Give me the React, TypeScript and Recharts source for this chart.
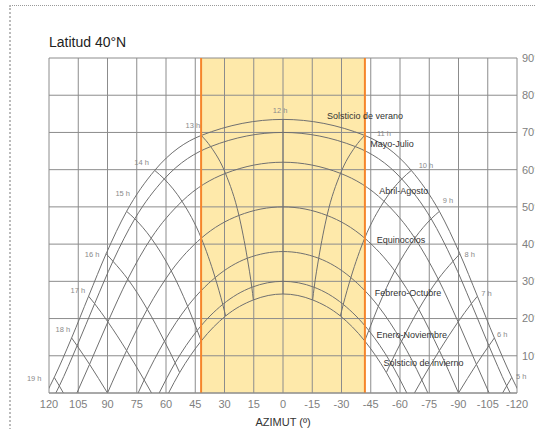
import {
  LineChart,
  Line,
  XAxis,
  YAxis,
  CartesianGrid,
  ReferenceArea,
  ReferenceLine,
  ReferenceDot,
} from "recharts";

// [azimuth (deg, + = west), altitude (deg)]
type Pt = [number, number];

const azTicks = [120, 105, 90, 75, 60, 45, 30, 15, 0, -15, -30, -45, -60, -75, -90, -105, -120];
const azMinorTicks = [
  115, 110, 100, 95, 85, 80, 70, 65, 55, 50, 40, 35, 25, 20, 10, 5,
  -5, -10, -20, -25, -35, -40, -50, -55, -65, -70, -80, -85, -95, -100, -110, -115,
];
const altTicks = [0, 10, 20, 30, 40, 50, 60, 70, 80, 90];
const altMinorTicks = [5, 15, 25, 35, 45, 55, 65, 75, 85];
const bandEdges = [42, -42];

// day paths
const summerPath: Pt[] = [
  [-121.3, 0], [-117.3, 4.2], [-108.4, 14.8], [-99.7, 26.0], [-90.7, 37.4], [-80.2, 48.8],
  [-65.8, 59.8], [-41.9, 69.2], [0, 73.5], [41.9, 69.2], [65.8, 59.8], [80.2, 48.8],
  [90.7, 37.4], [99.7, 26.0], [108.4, 14.8], [117.3, 4.2], [121.3, 0],
];
const mayJulPath: Pt[] = [
  [-116.5, 0], [-114.7, 1.9], [-105.6, 12.7], [-96.6, 24.0], [-87.2, 35.4], [-76.0, 46.8],
  [-60.9, 57.5], [-37.1, 66.2], [0, 70], [37.1, 66.2], [60.9, 57.5], [76.0, 46.8],
  [87.2, 35.4], [96.6, 24.0], [105.6, 12.7], [114.7, 1.9], [116.5, 0],
];
const aprAugPath: Pt[] = [
  [-105.7, 0], [-99.2, 7.7], [-89.8, 19.1], [-79.6, 30.6], [-67.6, 41.6], [-51.8, 51.5],
  [-29.5, 59.0], [0, 62], [29.5, 59.0], [51.8, 51.5], [67.6, 41.6], [79.6, 30.6],
  [89.8, 19.1], [99.2, 7.7], [105.7, 0],
];
const equinoxPath: Pt[] = [
  [-90, 0], [-80.2, 11.4], [-69.6, 22.5], [-57.3, 32.8], [-41.9, 41.6], [-22.6, 47.7],
  [0, 50], [22.6, 47.7], [41.9, 41.6], [57.3, 32.8], [69.6, 22.5], [80.2, 11.4], [90, 0],
];
const febOctPath: Pt[] = [
  [-74.3, 0], [-71.2, 3.5], [-60.8, 13.9], [-48.9, 23.3], [-34.8, 31.0], [-18.3, 36.2],
  [0, 38], [18.3, 36.2], [34.8, 31.0], [48.9, 23.3], [60.8, 13.9], [71.2, 3.5], [74.3, 0],
];
const janNovPath: Pt[] = [
  [-63.5, 0], [-55.3, 8.1], [-44.0, 16.8], [-30.9, 23.8], [-16.0, 28.4], [0, 30],
  [16.0, 28.4], [30.9, 23.8], [44.0, 16.8], [55.3, 8.1], [63.5, 0],
];
const winterPath: Pt[] = [
  [-58.7, 0], [-53.0, 5.5], [-41.9, 14.0], [-29.4, 20.7], [-15.2, 25.0], [0, 26.6],
  [15.2, 25.0], [29.4, 20.7], [41.9, 14.0], [53.0, 5.5], [58.7, 0],
];

// hour lines (summer -> winter)
const h5: Pt[] = [[-117.3, 4.2], [-114.7, 1.9], [-112.6, 0]];
const h6: Pt[] = [[-108.4, 14.8], [-105.6, 12.7], [-99.2, 7.7], [-90, 0]];
const h7: Pt[] = [[-99.7, 26.0], [-96.6, 24.0], [-89.8, 19.1], [-80.2, 11.4], [-71.2, 3.5], [-67.4, 0]];
const h8: Pt[] = [[-90.7, 37.4], [-87.2, 35.4], [-79.6, 30.6], [-69.6, 22.5], [-60.8, 13.9], [-55.3, 8.1], [-53.0, 5.5]];
const h9: Pt[] = [[-80.2, 48.8], [-76.0, 46.8], [-67.6, 41.6], [-57.3, 32.8], [-48.9, 23.3], [-44.0, 16.8], [-41.9, 14.0]];
const h10: Pt[] = [[-65.8, 59.8], [-60.9, 57.5], [-51.8, 51.5], [-41.9, 41.6], [-34.8, 31.0], [-30.9, 23.8], [-29.4, 20.7]];
const h11: Pt[] = [[-41.9, 69.2], [-37.1, 66.2], [-29.5, 59.0], [-22.6, 47.7], [-18.3, 36.2], [-16.0, 28.4], [-15.2, 25.0]];
const h12: Pt[] = [[0, 73.5], [0, 26.6]];
const h13: Pt[] = [[41.9, 69.2], [37.1, 66.2], [29.5, 59.0], [22.6, 47.7], [18.3, 36.2], [16.0, 28.4], [15.2, 25.0]];
const h14: Pt[] = [[65.8, 59.8], [60.9, 57.5], [51.8, 51.5], [41.9, 41.6], [34.8, 31.0], [30.9, 23.8], [29.4, 20.7]];
const h15: Pt[] = [[80.2, 48.8], [76.0, 46.8], [67.6, 41.6], [57.3, 32.8], [48.9, 23.3], [44.0, 16.8], [41.9, 14.0]];
const h16: Pt[] = [[90.7, 37.4], [87.2, 35.4], [79.6, 30.6], [69.6, 22.5], [60.8, 13.9], [55.3, 8.1], [53.0, 5.5]];
const h17: Pt[] = [[99.7, 26.0], [96.6, 24.0], [89.8, 19.1], [80.2, 11.4], [71.2, 3.5], [67.4, 0]];
const h18: Pt[] = [[108.4, 14.8], [105.6, 12.7], [99.2, 7.7], [90, 0]];
const h19: Pt[] = [[117.3, 4.2], [114.7, 1.9], [112.6, 0]];

const dayNames = [
  "Solsticio de verano", "Mayo-Julio", "Abril-Agosto", "Equinoccios",
  "Febrero-Octubre", "Enero-Noviembre", "Solsticio de invierno",
];
const dayLabelPos: Pt[] = [[-42.1, 74.4], [-55.9, 66.8], [-61.9, 54.3], [-60.5, 41.1], [-64.1, 26.8], [-66, 15.7], [-72, 8.1]];

const hourNames = ["5 h", "6 h", "7 h", "8 h", "9 h", "10 h", "11 h", "12 h", "13 h", "14 h", "15 h", "16 h", "17 h", "18 h", "19 h"];
const hourLabelPos: Pt[] = [
  [-122.2, 4.5], [-112.4, 15.7], [-104.3, 26.8], [-95.7, 37.3], [-84.6, 51.6], [-73.3, 61.1], [-51.8, 69.6],
  [1.5, 75.8], [46.2, 72.0], [72.5, 62.0], [82.2, 53.7], [97.9, 37.3], [105.2, 27.5], [112.9, 17.0], [127.6, 4.0],
];

const dayPaths = [summerPath, mayJulPath, aprAugPath, equinoxPath, febOctPath, janNovPath, winterPath];
const hourLines = [h5, h6, h7, h8, h9, h10, h11, h12, h13, h14, h15, h16, h17, h18, h19];

const rows = (pts: Pt[]) => pts.map(([az, alt]) => ({ az, alt }));

const GRID = "#8c8c8c";
const CURVE = "#707070";
const ORANGE = "#F5852B";

const textShape = (text: string, size: number, color: string) => (p: any) => (
  <text x={p.cx} y={p.cy} textAnchor="middle" dominantBaseline="central" fontSize={size} fill={color}>
    {text}
  </text>
);

export default function App() {
  return (
    <div
      style={{
        position: "fixed",
        left: 0,
        top: 0,
        width: 535,
        height: 429,
        overflow: "hidden",
        background: "#fff",
        fontFamily: "Arial, 'Liberation Sans', sans-serif",
      }}
    >
      <div
        style={{
          position: "absolute",
          left: 9,
          top: 5,
          width: 600,
          height: 500,
          borderTop: "1px dotted #999",
          borderLeft: "2px dotted #bbb",
        }}
      />
      <div style={{ position: "absolute", left: 49, top: 34, fontSize: 14, color: "#222", lineHeight: "17px" }}>
        Latitud 40°N
      </div>
      <LineChart
        width={568}
        height={429}
        margin={{ top: 58, right: 0, bottom: 0, left: 49 }}
        style={{ position: "absolute", left: 0, top: 0 }}
      >
        <ReferenceArea x1={bandEdges[0]} x2={bandEdges[1]} fill="#FEE9AA" fillOpacity={1} stroke="none" zIndex={-200} />
        <CartesianGrid stroke={GRID} strokeWidth={1} zIndex={-100} />
        <XAxis
          dataKey="az"
          type="number"
          domain={[-120, 120]}
          reversed
          allowDataOverflow
          ticks={azTicks}
          interval={0}
          tickLine={false}
          tickSize={0}
          tickMargin={7}
          axisLine={{ stroke: GRID }}
          tick={{ fill: "#808080", fontSize: 11 }}
          height={36}
          label={{ value: "AZIMUT (º)", position: "insideBottom", offset: 3, fill: "#333", fontSize: 11 }}
        />
        <XAxis
          xAxisId="topMinor"
          orientation="top"
          mirror
          type="number"
          domain={[-120, 120]}
          reversed
          allowDataOverflow
          ticks={azMinorTicks}
          interval={0}
          tick={false}
          tickSize={5}
          tickLine={{ stroke: GRID }}
          axisLine={false}
        />
        <XAxis
          xAxisId="bottomMinor"
          orientation="bottom"
          mirror
          type="number"
          domain={[-120, 120]}
          reversed
          allowDataOverflow
          ticks={azMinorTicks}
          interval={0}
          tick={false}
          tickSize={5}
          tickLine={{ stroke: GRID }}
          axisLine={false}
        />
        <YAxis
          orientation="right"
          type="number"
          domain={[0, 90]}
          allowDataOverflow
          ticks={altTicks}
          interval={0}
          tickLine={false}
          tickSize={0}
          tickMargin={5}
          axisLine={false}
          width={51}
          tick={{ fill: "#808080", fontSize: 11 }}
          tickFormatter={(v: number) => (v === 0 ? "" : `${v}°`)}
        />
        <YAxis
          yAxisId="leftMinor"
          orientation="left"
          mirror
          type="number"
          domain={[0, 90]}
          allowDataOverflow
          ticks={altMinorTicks}
          interval={0}
          tick={false}
          tickSize={5}
          tickLine={{ stroke: GRID }}
          axisLine={false}
        />
        <YAxis
          yAxisId="rightMinor"
          orientation="right"
          mirror
          type="number"
          domain={[0, 90]}
          allowDataOverflow
          ticks={altMinorTicks}
          interval={0}
          tick={false}
          tickSize={5}
          tickLine={{ stroke: GRID }}
          axisLine={false}
        />

        {dayPaths.map((p, i) => (
          <Line
            key={`day-${i}`}
            data={rows(p)}
            dataKey="alt"
            type="monotone"
            stroke={CURVE}
            strokeWidth={1}
            dot={false}
            activeDot={false}
            legendType="none"
            isAnimationActive={false}
          />
        ))}
        {hourLines.map((p, i) => (
          <Line
            key={`hour-${i}`}
            data={rows(p)}
            dataKey="alt"
            type={p.length > 2 ? "monotone" : "linear"}
            stroke={CURVE}
            strokeWidth={1}
            dot={false}
            activeDot={false}
            legendType="none"
            isAnimationActive={false}
          />
        ))}

        {bandEdges.map((x) => (
          <ReferenceLine key={`edge-${x}`} x={x} stroke={ORANGE} strokeWidth={2} />
        ))}

        {dayNames.map((name, i) => (
          <ReferenceDot
            key={name}
            x={dayLabelPos[i][0]}
            y={dayLabelPos[i][1]}
            r={1}
            ifOverflow="visible"
            shape={textShape(name, 9, "#333")}
          />
        ))}
        {hourNames.map((name, i) => (
          <ReferenceDot
            key={name}
            x={hourLabelPos[i][0]}
            y={hourLabelPos[i][1]}
            r={1}
            ifOverflow="visible"
            shape={textShape(name, 7.5, "#8a8a8a")}
          />
        ))}
      </LineChart>
    </div>
  );
}
